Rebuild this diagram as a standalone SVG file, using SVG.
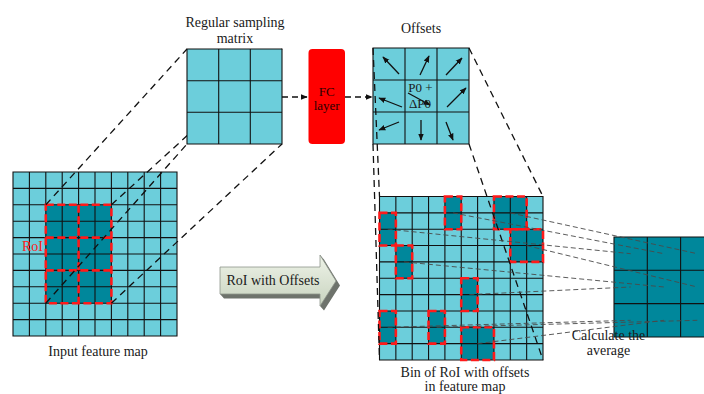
<svg xmlns="http://www.w3.org/2000/svg" width="704" height="394" viewBox="0 0 704 394">
  <style>
    .lbl { font-family: "Liberation Serif", "Times New Roman", serif; font-size: 14px; fill: #1a1a1a; text-anchor: middle; }
    .light { fill: #6ccedb; }
    .dark { fill: #00879b; }
    .grid { fill: none; stroke: #111; stroke-width: 1.1; }
    .roi { fill: none; stroke: #ff1a1a; stroke-width: 2.6; stroke-dasharray: 8 3.5; }
    .proj { fill: none; stroke: #111; stroke-width: 1.3; stroke-dasharray: 7 5; }
    .pool { fill: none; stroke: #4a4a4a; stroke-width: 0.9; stroke-dasharray: 5 3; }
    .flow { fill: none; stroke: #111; stroke-width: 1.4; stroke-dasharray: 6 4; }
    .vec { fill: none; stroke: #111; stroke-width: 1.3; }
  </style>
  <defs>
    <marker id="ah" viewBox="0 0 10 10" refX="9" refY="5" markerWidth="7" markerHeight="7" markerUnits="userSpaceOnUse" orient="auto">
      <path d="M0,1 L10,5 L0,9 z" fill="#111"/>
    </marker>
    <linearGradient id="face" x1="0" y1="0" x2="0" y2="1">
      <stop offset="0" stop-color="#eef3e8"/>
      <stop offset="1" stop-color="#c8d3bf"/>
    </linearGradient>
  </defs>

  <rect width="704" height="394" fill="#ffffff"/>

  <!-- input feature map, 10x10 cells -->
  <g id="input-map">
    <rect class="light" x="13" y="172" width="164" height="164"/>
    <rect class="dark" x="45.8" y="204.8" width="65.6" height="98.4"/>
    <path class="grid" d="M13 172H177V336H13Z
      M29.4 172V336 M45.8 172V336 M62.2 172V336 M78.6 172V336 M95 172V336 M111.4 172V336 M127.8 172V336 M144.2 172V336 M160.6 172V336
      M13 188.4H177 M13 204.8H177 M13 221.2H177 M13 237.6H177 M13 254H177 M13 270.4H177 M13 286.8H177 M13 303.2H177 M13 319.6H177"/>
    <path class="roi" d="M45.8 204.8H111.4V303.2H45.8Z M78.6 204.8V303.2 M45.8 237.6H111.4 M45.8 270.4H111.4"/>
    <text x="32.5" y="250.5" class="lbl" style="fill:#ff1a1a">RoI</text>
  </g>

  <!-- feature map with offset bins -->
  <g id="bin-map">
    <rect class="light" x="379.5" y="196.5" width="163.5" height="163.5"/>
    <rect class="dark" x="444.9" y="196.5" width="16.35" height="32.7"/>
    <rect class="dark" x="493.95" y="196.5" width="32.7" height="32.7"/>
    <rect class="dark" x="379.5" y="212.85" width="16.35" height="32.7"/>
    <rect class="dark" x="510.3" y="229.2" width="32.7" height="32.7"/>
    <rect class="dark" x="395.85" y="245.55" width="16.35" height="32.7"/>
    <rect class="dark" x="461.25" y="278.25" width="16.35" height="32.7"/>
    <rect class="dark" x="379.5" y="310.95" width="16.35" height="32.7"/>
    <rect class="dark" x="428.55" y="310.95" width="16.35" height="32.7"/>
    <rect class="dark" x="461.25" y="327.3" width="32.7" height="32.7"/>
    <path class="grid" d="M379.5 196.5H543V360H379.5Z
      M395.85 196.5V360 M412.2 196.5V360 M428.55 196.5V360 M444.9 196.5V360 M461.25 196.5V360 M477.6 196.5V360 M493.95 196.5V360 M510.3 196.5V360 M526.65 196.5V360
      M379.5 212.85H543 M379.5 229.2H543 M379.5 245.55H543 M379.5 261.9H543 M379.5 278.25H543 M379.5 294.6H543 M379.5 310.95H543 M379.5 327.3H543 M379.5 343.65H543"/>
    <rect class="roi" x="444.9" y="196.5" width="16.35" height="32.7"/>
    <rect class="roi" x="493.95" y="196.5" width="32.7" height="32.7"/>
    <rect class="roi" x="379.5" y="212.85" width="16.35" height="32.7"/>
    <rect class="roi" x="510.3" y="229.2" width="32.7" height="32.7"/>
    <rect class="roi" x="395.85" y="245.55" width="16.35" height="32.7"/>
    <rect class="roi" x="461.25" y="278.25" width="16.35" height="32.7"/>
    <rect class="roi" x="379.5" y="310.95" width="16.35" height="32.7"/>
    <rect class="roi" x="428.55" y="310.95" width="16.35" height="32.7"/>
    <rect class="roi" x="461.25" y="327.3" width="32.7" height="32.7"/>
  </g>

  <!-- pooled output, 3x3 -->
  <g id="output-grid">
    <rect class="dark" x="614" y="237" width="100" height="100"/>
    <path class="grid" d="M614 237H714V337H614Z M647.3 237V337 M680.6 237V337 M614 270.3H714 M614 303.6H714"/>
  </g>

  <!-- offsets field, 3x3 -->
  <g id="offsets">
    <rect class="light" x="373" y="48" width="96" height="96"/>
    <path class="grid" d="M373 48H469V144H373Z M405 48V144 M437 48V144 M373 80H469 M373 112H469"/>
    <g marker-end="url(#ah)">
      <path class="vec" d="M399 74L383 57"/>
      <path class="vec" d="M420 75L429 56"/>
      <path class="vec" d="M446 75L462 58"/>
      <path class="vec" d="M402 107L379 98"/>
      <path class="vec" d="M408 93L430 105"/>
      <path class="vec" d="M447 107L466 88"/>
      <path class="vec" d="M399 122L379 130"/>
      <path class="vec" d="M421 120L421 140"/>
      <path class="vec" d="M446 122L453 140"/>
    </g>
    <text x="420.5" y="91.5" class="lbl" style="font-size:13px">P0 +</text>
    <text x="420" y="107.5" class="lbl" style="font-size:13px">ΔP0</text>
  </g>

  <!-- connectors -->
  <g id="connectors">
    <path class="proj" d="M45.8 204.8L187 49 M111.4 204.8L282 49 M45.8 303.2L187 144 M111.4 303.2L282 144"/>
    <path class="proj" d="M373 48L379.5 196.5 M469 48L543 196.5 M373 144L379.5 360 M469 144L543 360"/>
    <path class="flow" d="M282 97H307" marker-end="url(#ah)"/>
    <path class="flow" d="M345 97H372" marker-end="url(#ah)"/>
    <path class="pool" d="M510.3 212.9L697.3 253.7 M453.1 212.9L664 253.7 M387.7 229.2L630.7 253.7
      M526.65 245.55L697.3 287 M404 261.9L664 287 M469.4 294.6L630.7 287
      M387.7 327.3L630.7 320.3 M436.7 327.3L697.3 320.3 M477.6 343.65L664 320.3"/>
  </g>

  <!-- regular sampling matrix, 3x3 -->
  <g id="sampling-matrix">
    <rect class="light" x="187" y="49" width="95" height="95"/>
    <path class="grid" d="M187 49H282V144H187Z M218.7 49V144 M250.3 49V144 M187 80.7H282 M187 112.3H282"/>
  </g>

  <!-- fully connected layer -->
  <g id="fc-layer">
    <rect x="308.5" y="49" width="36.5" height="95" rx="4" fill="#ff0000"/>
    <text x="326.7" y="95.5" class="lbl" style="font-size:13px;fill:#2a0000">FC</text>
    <text x="326.7" y="109.5" class="lbl" style="font-size:13px;fill:#2a0000">layer</text>
  </g>

  <!-- block arrow -->
  <g id="roi-arrow">
    <polygon points="220,267 320,267 320,255 324,259.5 340,285.5 324,310.5 320,306 320,294 324,298.5 224,298.5 220,294" fill="#6e736c"/>
    <polygon points="220,267 320,267 320,255 336,281 320,306 320,294 220,294" fill="url(#face)" stroke="#8d948a" stroke-width="0.8"/>
    <text x="273" y="285" class="lbl">RoI with Offsets</text>
  </g>

  <!-- captions -->
  <g id="captions">
    <text x="235" y="27" class="lbl">Regular sampling</text>
    <text x="235" y="42.5" class="lbl">matrix</text>
    <text x="421" y="33" class="lbl">Offsets</text>
    <text x="98" y="356" class="lbl">Input feature map</text>
    <text x="465" y="377" class="lbl">Bin of RoI with offsets</text>
    <text x="465" y="391" class="lbl">in feature map</text>
    <text x="608.5" y="339.5" class="lbl">Calculate the</text>
    <text x="608.5" y="355" class="lbl">average</text>
  </g>
</svg>
